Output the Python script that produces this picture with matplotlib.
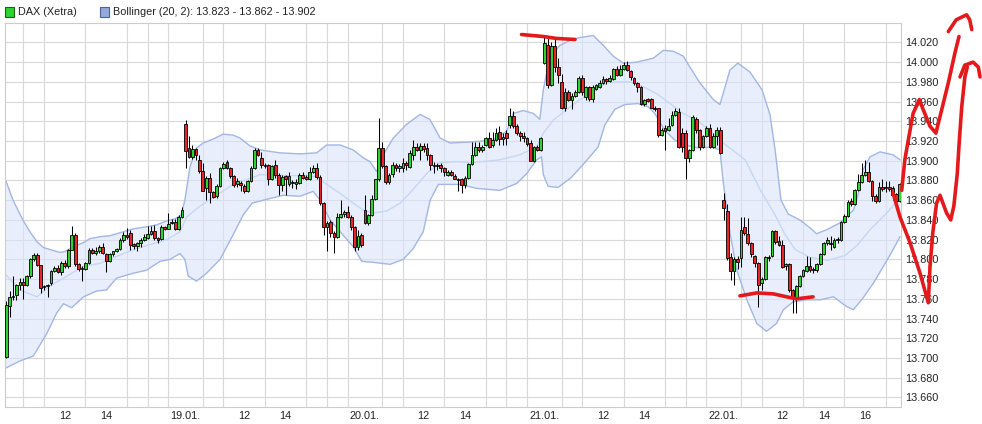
import matplotlib
matplotlib.use("Agg")
import matplotlib.pyplot as plt
from matplotlib.patches import Rectangle
from matplotlib.ticker import FixedLocator, FuncFormatter

# DAX (Xetra), 10-Minuten-Kerzen, 52 pro Handelstag: (open, high, low, close)
ohlc_18 = [
    (13701, 13758, 13700, 13754), (13753, 13768, 13742, 13762), (13762, 13783, 13759, 13763),
    (13764, 13775, 13759, 13774), (13774, 13781, 13769, 13777), (13777, 13781, 13760, 13774),
    (13774, 13784, 13773, 13783), (13783, 13801, 13781, 13800), (13800, 13806, 13798, 13804),
    (13804, 13806, 13793, 13794), (13794, 13794, 13766, 13771), (13772, 13774, 13769, 13773),
    (13773, 13775, 13762, 13774), (13776, 13789, 13774, 13788), (13788, 13793, 13787, 13791),
    (13791, 13794, 13786, 13787), (13787, 13798, 13784, 13796), (13796, 13799, 13791, 13793),
    (13793, 13811, 13791, 13810), (13810, 13834, 13810, 13825), (13825, 13827, 13793, 13795),
    (13795, 13796, 13788, 13790), (13790, 13793, 13778, 13791), (13790, 13797, 13789, 13796),
    (13796, 13812, 13795, 13810), (13810, 13812, 13805, 13806), (13806, 13813, 13804, 13809),
    (13808, 13815, 13806, 13813), (13813, 13817, 13805, 13806), (13805, 13806, 13787, 13798),
    (13798, 13806, 13797, 13805), (13805, 13809, 13803, 13808), (13808, 13812, 13807, 13811),
    (13811, 13822, 13810, 13820), (13820, 13828, 13818, 13825), (13825, 13832, 13821, 13823),
    (13827, 13830, 13810, 13815), (13816, 13817, 13811, 13814), (13814, 13818, 13808, 13817),
    (13817, 13822, 13813, 13820), (13820, 13826, 13819, 13823), (13822, 13834, 13821, 13826),
    (13826, 13834, 13825, 13829), (13829, 13835, 13820, 13822), (13822, 13823, 13817, 13820),
    (13821, 13835, 13820, 13833), (13833, 13834, 13830, 13831), (13831, 13847, 13831, 13836),
    (13837, 13841, 13836, 13838), (13838, 13841, 13830, 13831), (13831, 13845, 13830, 13843),
    (13843, 13853, 13842, 13850),
]
ohlc_19 = [
    (13937, 13941, 13893, 13910), (13913, 13925, 13903, 13904), (13904, 13916, 13902, 13912),
    (13912, 13913, 13901, 13906), (13901, 13906, 13888, 13890), (13890, 13898, 13869, 13869),
    (13872, 13885, 13860, 13883), (13883, 13888, 13857, 13868), (13868, 13869, 13862, 13863),
    (13864, 13876, 13862, 13874), (13874, 13894, 13873, 13893), (13893, 13899, 13892, 13897),
    (13899, 13901, 13892, 13893), (13893, 13894, 13883, 13885), (13885, 13886, 13873, 13875),
    (13876, 13883, 13873, 13879), (13877, 13879, 13869, 13875), (13874, 13876, 13867, 13869),
    (13869, 13880, 13868, 13879), (13879, 13895, 13878, 13893), (13893, 13913, 13892, 13911),
    (13911, 13913, 13905, 13906), (13903, 13909, 13893, 13896), (13896, 13898, 13893, 13895),
    (13896, 13897, 13875, 13881), (13881, 13896, 13880, 13895), (13896, 13901, 13883, 13886),
    (13886, 13888, 13865, 13875), (13875, 13886, 13869, 13884), (13885, 13886, 13865, 13881),
    (13876, 13889, 13874, 13885), (13877, 13880, 13872, 13878), (13876, 13881, 13871, 13878),
    (13877, 13888, 13876, 13886), (13886, 13889, 13882, 13883), (13884, 13886, 13880, 13882),
    (13882, 13894, 13880, 13889), (13889, 13896, 13888, 13893), (13893, 13898, 13882, 13884),
    (13884, 13886, 13855, 13857), (13857, 13858, 13825, 13833), (13833, 13839, 13808, 13837),
    (13838, 13840, 13823, 13827), (13827, 13829, 13806, 13823), (13823, 13847, 13822, 13843),
    (13843, 13860, 13842, 13846), (13846, 13850, 13843, 13848), (13848, 13854, 13842, 13843),
    (13843, 13845, 13830, 13833), (13833, 13834, 13809, 13813), (13813, 13830, 13810, 13824),
    (13825, 13827, 13813, 13815),
]
ohlc_20 = [
    (13850, 13865, 13836, 13837), (13837, 13846, 13835, 13845), (13845, 13865, 13844, 13861),
    (13861, 13882, 13860, 13881), (13881, 13943, 13879, 13913), (13913, 13919, 13893, 13895),
    (13895, 13896, 13876, 13878), (13878, 13888, 13876, 13886), (13887, 13899, 13884, 13896),
    (13896, 13898, 13890, 13893), (13893, 13897, 13889, 13895), (13893, 13903, 13889, 13898),
    (13898, 13900, 13891, 13896), (13894, 13911, 13893, 13908), (13906, 13921, 13901, 13914),
    (13914, 13918, 13910, 13911), (13911, 13918, 13901, 13915), (13915, 13918, 13909, 13912),
    (13913, 13918, 13901, 13906), (13906, 13907, 13891, 13896), (13896, 13899, 13888, 13895),
    (13895, 13898, 13891, 13896), (13896, 13898, 13889, 13893), (13893, 13894, 13885, 13889),
    (13886, 13891, 13885, 13889), (13889, 13891, 13885, 13886), (13885, 13887, 13881, 13882),
    (13882, 13883, 13869, 13880), (13882, 13883, 13867, 13875), (13875, 13885, 13872, 13883),
    (13883, 13898, 13882, 13897), (13897, 13919, 13896, 13906), (13906, 13919, 13905, 13914),
    (13914, 13919, 13909, 13911), (13911, 13916, 13909, 13914), (13916, 13924, 13915, 13923),
    (13923, 13929, 13913, 13914), (13916, 13929, 13914, 13921), (13921, 13933, 13920, 13928),
    (13929, 13935, 13916, 13922), (13922, 13928, 13916, 13924), (13928, 13931, 13916, 13923),
    (13936, 13954, 13933, 13945), (13945, 13950, 13933, 13935), (13935, 13937, 13926, 13928),
    (13928, 13930, 13920, 13925), (13925, 13929, 13919, 13923), (13923, 13924, 13915, 13917),
    (13918, 13921, 13900, 13900), (13900, 13915, 13899, 13914), (13914, 13916, 13910, 13911),
    (13911, 13924, 13910, 13923),
]
ohlc_21 = [
    (13999, 14027, 13998, 14019), (14017, 14024, 13974, 13977), (13977, 14020, 13976, 14016),
    (14016, 14024, 13990, 13995), (13995, 14004, 13979, 13987), (13980, 13988, 13952, 13954),
    (13954, 13974, 13950, 13970), (13970, 13972, 13961, 13962), (13962, 13969, 13952, 13966),
    (13966, 13972, 13965, 13970), (13970, 13986, 13969, 13984), (13984, 13987, 13967, 13970),
    (13965, 13976, 13962, 13975), (13975, 13976, 13961, 13963), (13963, 13977, 13960, 13975),
    (13973, 13978, 13972, 13977), (13975, 13982, 13974, 13979), (13979, 13986, 13978, 13983),
    (13983, 13984, 13978, 13981), (13981, 13987, 13980, 13984), (13983, 13994, 13982, 13993),
    (13993, 13996, 13986, 13987), (13987, 13997, 13986, 13993), (13993, 14000, 13992, 13997),
    (13997, 14001, 13991, 13992), (13991, 13992, 13982, 13985), (13984, 13985, 13977, 13979),
    (13979, 13980, 13970, 13975), (13975, 13976, 13957, 13958), (13958, 13963, 13956, 13962),
    (13963, 13964, 13960, 13961), (13963, 13964, 13953, 13954), (13954, 13956, 13950, 13952),
    (13953, 13954, 13924, 13926), (13926, 13933, 13925, 13931), (13933, 13936, 13911, 13930),
    (13931, 13943, 13930, 13935), (13936, 13950, 13935, 13946), (13946, 13954, 13945, 13950),
    (13949, 13954, 13913, 13914), (13928, 13933, 13909, 13914), (13928, 13931, 13881, 13903),
    (13903, 13912, 13899, 13911), (13911, 13946, 13910, 13944), (13942, 13944, 13928, 13931),
    (13931, 13932, 13911, 13914), (13914, 13926, 13913, 13925), (13925, 13935, 13924, 13933),
    (13933, 13937, 13913, 13914), (13914, 13928, 13913, 13925), (13925, 13934, 13916, 13931),
    (13931, 13934, 13907, 13908),
]
ohlc_22 = [
    (13860, 13867, 13840, 13852), (13849, 13856, 13799, 13801), (13802, 13806, 13779, 13788),
    (13788, 13802, 13774, 13800), (13800, 13803, 13790, 13797), (13801, 13843, 13792, 13830),
    (13833, 13843, 13825, 13827), (13826, 13842, 13815, 13817), (13817, 13818, 13802, 13805),
    (13803, 13804, 13792, 13796), (13796, 13797, 13752, 13774), (13776, 13782, 13769, 13780),
    (13780, 13803, 13779, 13802), (13801, 13804, 13798, 13802), (13803, 13830, 13802, 13829),
    (13829, 13830, 13816, 13818), (13819, 13824, 13814, 13815), (13815, 13820, 13791, 13792),
    (13793, 13796, 13789, 13795), (13795, 13796, 13767, 13769), (13769, 13770, 13746, 13762),
    (13762, 13774, 13746, 13773), (13773, 13784, 13772, 13783), (13783, 13790, 13782, 13789),
    (13788, 13803, 13787, 13793), (13793, 13802, 13787, 13789), (13789, 13792, 13786, 13790),
    (13789, 13796, 13787, 13795), (13795, 13806, 13794, 13805), (13805, 13818, 13804, 13817),
    (13817, 13823, 13815, 13820), (13817, 13824, 13810, 13816), (13813, 13822, 13812, 13820),
    (13820, 13823, 13817, 13821), (13820, 13839, 13819, 13838), (13838, 13846, 13837, 13844),
    (13844, 13860, 13843, 13858), (13859, 13862, 13854, 13856), (13856, 13871, 13855, 13870),
    (13870, 13887, 13869, 13878), (13878, 13898, 13877, 13886), (13886, 13901, 13885, 13889),
    (13889, 13899, 13878, 13879), (13879, 13880, 13859, 13864), (13864, 13866, 13857, 13859),
    (13859, 13878, 13858, 13873), (13873, 13881, 13869, 13871), (13872, 13879, 13868, 13873),
    (13873, 13879, 13869, 13871), (13872, 13874, 13860, 13865), (13866, 13867, 13857, 13859),
    (13859, 13877, 13858, 13876),
]
days = [ohlc_18, ohlc_19, ohlc_20, ohlc_21, ohlc_22]

# Bollinger (20, 2): Position in 10-Min-Slots, Wert in Punkten
upper_x = [1.0, 3.0, 6.0, 7.9, 9.9, 11.8, 14.7, 16.6, 18.1, 20.5, 23.4, 25.3, 28.2, 31.1, 34.0,
           37.9, 41.7, 44.6, 47.5, 49.9, 51.7, 52.8, 54.3, 56.2, 58.1, 61.0, 63.9, 66.8, 68.8,
           71.7, 74.6, 80.4, 86.2, 91.0, 93.9, 97.8, 101.6, 104.5, 106.5, 108.4, 110.3, 113.2,
           117.1, 121.0, 123.8, 126.8, 129.7, 135.4, 142.2, 146.1, 148.0, 150.9, 153.8, 155.7,
           156.7, 158.6, 161.5, 164.4, 167.3, 171.2, 174.1, 177.0, 179.9, 183.8, 188.6, 191.5,
           194.4, 197.3, 199.2, 202.1, 206.0, 207.9, 209.4, 210.8, 213.1, 216.6, 220.1, 222.4,
           223.9, 225.6, 227.7, 231.1, 234.0, 235.9, 238.8, 242.7, 246.6, 247.9, 249.4, 251.4,
           254.3, 258.1, 260.1]
upper_v = [13879, 13860, 13839, 13828, 13818, 13812, 13809, 13807, 13808, 13813, 13817, 13821,
           13823, 13824, 13827, 13831, 13833, 13835, 13839, 13841, 13845, 13860, 13894, 13913,
           13918, 13922, 13927, 13926, 13923, 13915, 13911, 13908, 13907, 13908, 13916, 13916,
           13911, 13903, 13899, 13889, 13906, 13923, 13937, 13947, 13942, 13923, 13918, 13919,
           13921, 13930, 13948, 13951, 13948, 13942, 13972, 14005, 14017, 14022, 14025, 14027,
           14017, 14006, 13999, 14000, 14004, 14012, 14011, 14006, 13995, 13979, 13962, 13957,
           13975, 13992, 13999, 13990, 13972, 13947, 13911, 13860, 13846, 13840, 13832, 13826,
           13830, 13837, 13850, 13865, 13891, 13904, 13909, 13906, 13901]
mid_x = [1.0, 5.0, 9.9, 13.7, 18.6, 23.4, 28.2, 33.0, 37.9, 42.7, 47.5, 51.4, 53.3, 57.2, 62.0,
         66.8, 71.7, 74.6, 80.4, 86.2, 91.0, 93.9, 97.8, 101.6, 104.5, 107.4, 111.3, 115.2,
         119.0, 122.9, 126.8, 131.6, 136.3, 144.1, 149.9, 154.8, 156.7, 159.6, 163.5, 167.3,
         171.2, 175.1, 179.0, 181.8, 185.7, 189.6, 193.4, 197.3, 201.2, 205.0, 208.9, 215.2,
         219.5, 223.9, 226.8, 229.7, 234.0, 239.2, 244.2, 247.9, 251.4, 255.7, 260.1]
mid_v = [13784, 13769, 13762, 13773, 13783, 13793, 13796, 13803, 13810, 13815, 13820, 13828,
         13843, 13854, 13865, 13876, 13882, 13886, 13885, 13885, 13884, 13876, 13867, 13857,
         13850, 13847, 13849, 13857, 13871, 13887, 13898, 13899, 13898, 13901, 13906, 13914,
         13928, 13941, 13952, 13962, 13970, 13979, 13980, 13980, 13975, 13968, 13958, 13948,
         13941, 13931, 13918, 13901, 13871, 13845, 13825, 13810, 13802, 13799, 13804, 13815,
         13830, 13845, 13862]
lower_x = [1.0, 5.0, 8.9, 12.8, 15.7, 17.6, 20.0, 23.4, 27.3, 30.1, 33.0, 37.9, 41.7, 45.6, 48.5,
           51.4, 52.8, 53.8, 56.2, 59.1, 63.0, 66.8, 69.7, 72.3, 75.5, 81.3, 86.2, 90.0, 92.0,
           94.9, 97.8, 101.6, 104.1, 107.4, 112.3, 116.1, 119.0, 121.9, 123.9, 126.3, 132.5,
           137.4, 144.1, 149.0, 151.9, 154.8, 156.2, 156.7, 158.1, 161.0, 164.8, 168.7, 172.6,
           174.5, 177.4, 180.3, 184.1, 187.0, 189.0, 191.9, 194.8, 197.7, 201.6, 205.4, 207.9,
           208.9, 210.8, 212.8, 215.7, 218.6, 221.4, 224.3, 226.3, 229.2, 233.1, 237.0, 240.8,
           244.7, 246.6, 249.4, 252.4, 255.3, 258.1, 260.1]
lower_v = [13690, 13697, 13702, 13725, 13746, 13755, 13751, 13762, 13768, 13769, 13781, 13786,
           13789, 13798, 13800, 13806, 13800, 13783, 13778, 13786, 13800, 13825, 13845, 13857,
           13860, 13865, 13864, 13869, 13860, 13840, 13828, 13813, 13798, 13797, 13795, 13800,
           13811, 13828, 13860, 13876, 13876, 13872, 13870, 13877, 13887, 13901, 13904, 13886,
           13874, 13873, 13883, 13898, 13914, 13936, 13952, 13957, 13958, 13955, 13948, 13931,
           13921, 13916, 13913, 13914, 13911, 13877, 13827, 13789, 13759, 13735, 13727, 13735,
           13749, 13757, 13759, 13759, 13762, 13752, 13749, 13761, 13776, 13793, 13810, 13823]

day_labels = ["19.01.", "20.01.", "21.01.", "22.01."]
legend_dax = "DAX (Xetra)"
legend_boll = "Bollinger (20, 2): 13.823 - 13.862 - 13.902"

# rote Handmarkierungen (Slot, Punkte)
mark_top = [(150.4, 14028), (156.7, 14026), (160.6, 14024), (165.9, 14023)]
mark_low = [(213.7, 13763), (218.6, 13766), (223.4, 13765), (227.3, 13762), (230.1, 13760), (234.9, 13762)]
mark_up = [(260.6, 13870), (261.5, 13901), (262.5, 13921), (263.9, 13948), (265.7, 13962), (266.8, 13952),
           (268.8, 13935), (270.5, 13928), (272.2, 13952), (274.1, 13979), (276.0, 14009), (277.2, 14026)]
mark_up_hook = [(274.1, 14031), (276.4, 14043), (279.4, 14048), (280.3, 14043), (280.9, 14033)]
mark_down = [(258.1, 13867), (260.1, 13843), (263.0, 13817), (265.9, 13786), (268.3, 13756), (268.8, 13793),
             (269.6, 13827), (270.7, 13857), (271.7, 13865), (273.6, 13847), (274.8, 13840), (275.7, 13854),
             (276.7, 13887), (277.3, 13921), (278.0, 13955), (278.9, 13985), (279.6, 13995)]
mark_down_hook = [(277.5, 13985), (278.9, 13997), (281.3, 14000), (282.8, 13995), (283.3, 13985)]

SLOTS = 52
GREEN = "#2fd22f"
RED = "#e8262a"
TXT = "#222222"
FS = 7.8

fig = plt.figure(figsize=(9.82, 4.24), dpi=100)
ax = fig.add_axes([4.7 / 982, 16.7 / 424, 896 / 982, 384.6 / 424])
ax.set_xlim(0.58, 260.3)
ax.set_ylim(13650, 14040)
ax.set_axisbelow(True)

# Bollinger-Band
poly_x = upper_x + lower_x[::-1]
poly_y = upper_v + lower_v[::-1]
ax.fill(poly_x, poly_y, color="#d9e4fa", alpha=0.6, lw=0, zorder=1)
ax.plot(upper_x, upper_v, color="#a2b7e3", lw=1.0, zorder=2)
ax.plot(lower_x, lower_v, color="#a2b7e3", lw=1.0, zorder=2)
ax.plot(mid_x, mid_v, color="#c6d7f5", lw=1.0, zorder=2)

# Kerzen
xs, o, h, l, c = [], [], [], [], []
for d, day in enumerate(days):
    for k, (op, hi, lo, cl) in enumerate(day):
        xs.append(d * SLOTS + 1 + k)
        o.append(op); h.append(hi); l.append(lo); c.append(cl)

ax.vlines(xs, l, h, color="black", lw=0.75, zorder=3)
bottoms = [min(a, b) for a, b in zip(o, c)]
heights = [max(abs(b - a), 0.8) for a, b in zip(o, c)]
colors = [GREEN if b >= a else RED for a, b in zip(o, c)]
ax.bar(xs, heights, bottom=bottoms, width=0.8, color=colors, edgecolor="black",
       linewidth=0.6, zorder=4)

# Achsen
yticks = list(range(13660, 14021, 20))
ax.yaxis.tick_right()
ax.set_yticks(yticks)
ax.yaxis.set_major_formatter(FuncFormatter(lambda v, _: f"{v / 1000:.3f}"))

xt, xl = [], []
for d in range(5):
    if d > 0:
        xt.append(d * SLOTS + 1); xl.append(day_labels[d - 1])
    xt.append(d * SLOTS + 18); xl.append("12")
    xt.append(d * SLOTS + 30); xl.append("14")
xt.append(4 * SLOTS + 42); xl.append("16")
ax.set_xticks(xt)
ax.set_xticklabels(xl)

grid_x = []
for d in range(5):
    if d > 0:
        grid_x.append(d * SLOTS + 1)
    grid_x += [d * SLOTS + 6 * j for j in range(1, 9)]
ax.xaxis.set_minor_locator(FixedLocator(grid_x))
ax.grid(True, which="minor", axis="x", color="#d8d8d8", lw=0.8)
ax.grid(True, which="major", axis="y", color="#d8d8d8", lw=0.8)
ax.tick_params(axis="both", which="both", length=0, colors=TXT)
ax.tick_params(axis="y", pad=3, labelsize=FS)
ax.tick_params(axis="x", pad=2.5, labelsize=FS)
for t in ax.get_yticklabels():
    t.set_fontfamily(["Liberation Sans", "DejaVu Sans"])
for t in ax.get_xticklabels():
    t.set_fontfamily(["Liberation Sans Narrow", "Liberation Sans", "DejaVu Sans"])
for s in ax.spines.values():
    s.set_color("#cccccc")
    s.set_linewidth(0.8)

# Legende oben
fig.patches.append(Rectangle((5 / 982, 407.5 / 424), 9 / 982, 9 / 424, transform=fig.transFigure,
                             facecolor=GREEN, edgecolor="#1d5e1d", lw=0.8))
fig.text(18 / 982, 412 / 424, legend_dax, fontsize=FS, color=TXT, va="center",
         family=["Liberation Sans", "DejaVu Sans"])
fig.patches.append(Rectangle((100 / 982, 407.5 / 424), 9 / 982, 9 / 424, transform=fig.transFigure,
                             facecolor="#93a9d9", edgecolor="#4f6490", lw=0.8))
fig.text(113 / 982, 412 / 424, legend_boll, fontsize=FS, color=TXT, va="center",
         family=["Liberation Sans", "DejaVu Sans"])

# rote Markierungen
for mark in [mark_top, mark_low, mark_up, mark_up_hook, mark_down, mark_down_hook]:
    mx = [p[0] for p in mark]
    my = [p[1] for p in mark]
    ax.plot(mx, my, color="#e3191c", lw=2.6, solid_capstyle="round", solid_joinstyle="round",
            clip_on=False, zorder=10)

fig.savefig("out.png", dpi=100)
